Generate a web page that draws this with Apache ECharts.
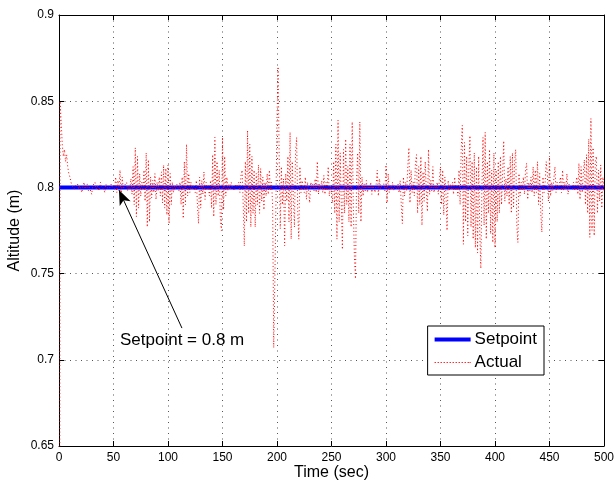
<!DOCTYPE html>
<html>
<head>
<meta charset="utf-8">
<script src="https://cdn.jsdelivr.net/npm/echarts@6/dist/echarts.min.js"></script>
<style>
html,body{margin:0;padding:0;background:#fff;}
#chart{width:614px;height:483px;}
</style>
</head>
<body>
<div id="chart"></div>
<script>
// ---- data ----
var timeStep = 1; // seconds between samples of the measured altitude
var setpointTimes = [0, 500];
var setpointValues = [0.8, 0.8];
var actualValues = [
  0.000, 0.850, 0.838, 0.825, 0.818, 0.822, 0.815, 0.819, 0.812, 0.808,
  0.806, 0.803, 0.801, 0.802, 0.799, 0.801, 0.800, 0.802, 0.799, 0.801,
  0.800, 0.797, 0.801, 0.803, 0.799, 0.800, 0.802, 0.798, 0.800, 0.801,
  0.796, 0.801, 0.800, 0.803, 0.799, 0.801, 0.800, 0.798, 0.803, 0.800,
  0.801, 0.799, 0.797, 0.802, 0.800, 0.801, 0.799, 0.800, 0.802, 0.800,
  0.801, 0.799, 0.806, 0.797, 0.804, 0.800, 0.810, 0.794, 0.806, 0.799,
  0.801, 0.800, 0.803, 0.798, 0.801, 0.799, 0.805, 0.796, 0.812, 0.790,
  0.823, 0.783, 0.818, 0.788, 0.808, 0.795, 0.803, 0.799, 0.810, 0.792,
  0.820, 0.777, 0.816, 0.780, 0.806, 0.794, 0.804, 0.797, 0.808, 0.793,
  0.803, 0.798, 0.806, 0.795, 0.809, 0.791, 0.813, 0.788, 0.811, 0.784,
  0.813, 0.779, 0.808, 0.790, 0.803, 0.797, 0.801, 0.799, 0.802, 0.800,
  0.798, 0.803, 0.790, 0.806, 0.782, 0.815, 0.790, 0.825, 0.795, 0.808,
  0.797, 0.803, 0.799, 0.801, 0.800, 0.797, 0.804, 0.790, 0.779, 0.806,
  0.788, 0.804, 0.796, 0.809, 0.793, 0.803, 0.799, 0.801, 0.795, 0.804,
  0.788, 0.819, 0.783, 0.829, 0.790, 0.815, 0.795, 0.810, 0.782, 0.775,
  0.829, 0.787, 0.818, 0.795, 0.806, 0.798, 0.802, 0.799, 0.803, 0.800,
  0.801, 0.798, 0.802, 0.800, 0.799, 0.803, 0.797, 0.807, 0.810, 0.790,
  0.766, 0.815, 0.780, 0.833, 0.785, 0.825, 0.777, 0.818, 0.785, 0.810,
  0.777, 0.808, 0.790, 0.813, 0.785, 0.811, 0.792, 0.806, 0.787, 0.803,
  0.795, 0.808, 0.796, 0.810, 0.798, 0.803, 0.790, 0.707, 0.745, 0.790,
  0.840, 0.870, 0.818, 0.776, 0.812, 0.790, 0.805, 0.766, 0.808, 0.792,
  0.818, 0.780, 0.832, 0.770, 0.815, 0.795, 0.777, 0.820, 0.829, 0.786,
  0.770, 0.812, 0.797, 0.804, 0.799, 0.797, 0.806, 0.793, 0.803, 0.798,
  0.791, 0.803, 0.800, 0.802, 0.798, 0.805, 0.797, 0.815, 0.796, 0.802,
  0.799, 0.804, 0.797, 0.807, 0.796, 0.803, 0.798, 0.812, 0.795, 0.801,
  0.797, 0.791, 0.815, 0.785, 0.825, 0.770, 0.839, 0.780, 0.820, 0.790,
  0.764, 0.822, 0.785, 0.828, 0.790, 0.812, 0.780, 0.825, 0.777, 0.838,
  0.790, 0.760, 0.747, 0.805, 0.820, 0.785, 0.838, 0.780, 0.806, 0.795,
  0.802, 0.798, 0.804, 0.797, 0.801, 0.799, 0.803, 0.796, 0.801, 0.800,
  0.797, 0.802, 0.810, 0.795, 0.805, 0.799, 0.801, 0.800, 0.802, 0.798,
  0.813, 0.791, 0.808, 0.797, 0.801, 0.799, 0.803, 0.798, 0.801, 0.800,
  0.799, 0.802, 0.797, 0.804, 0.790, 0.779, 0.806, 0.795, 0.803, 0.798,
  0.812, 0.823, 0.791, 0.810, 0.797, 0.803, 0.795, 0.814, 0.819, 0.785,
  0.812, 0.790, 0.818, 0.778, 0.809, 0.792, 0.815, 0.798, 0.786, 0.822,
  0.796, 0.804, 0.798, 0.812, 0.797, 0.801, 0.799, 0.803, 0.796, 0.805,
  0.812, 0.790, 0.810, 0.784, 0.806, 0.797, 0.775, 0.804, 0.798, 0.802,
  0.799, 0.803, 0.796, 0.806, 0.798, 0.801, 0.795, 0.810, 0.790, 0.822,
  0.836, 0.767, 0.826, 0.780, 0.818, 0.772, 0.812, 0.830, 0.777, 0.815,
  0.770, 0.820, 0.765, 0.812, 0.762, 0.818, 0.775, 0.753, 0.800, 0.829,
  0.778, 0.832, 0.770, 0.815, 0.785, 0.822, 0.773, 0.810, 0.768, 0.820,
  0.765, 0.810, 0.780, 0.815, 0.785, 0.818, 0.790, 0.808, 0.827, 0.792,
  0.805, 0.795, 0.812, 0.790, 0.818, 0.785, 0.820, 0.788, 0.815, 0.822,
  0.778, 0.768, 0.808, 0.795, 0.803, 0.798, 0.806, 0.796, 0.810, 0.814,
  0.793, 0.803, 0.798, 0.806, 0.797, 0.812, 0.795, 0.810, 0.797, 0.815,
  0.790, 0.808, 0.785, 0.774, 0.806, 0.797, 0.803, 0.815, 0.808, 0.792,
  0.818, 0.795, 0.803, 0.798, 0.805, 0.812, 0.797, 0.803, 0.799, 0.801,
  0.806, 0.797, 0.810, 0.798, 0.803, 0.799, 0.808, 0.796, 0.802, 0.800,
  0.801, 0.799, 0.803, 0.798, 0.801, 0.806, 0.796, 0.814, 0.793, 0.812,
  0.797, 0.808, 0.816, 0.790, 0.819, 0.785, 0.828, 0.771, 0.840, 0.775,
  0.823, 0.772, 0.815, 0.818, 0.785, 0.810, 0.792, 0.813, 0.788, 0.806,
  0.798
];
var xTicks = [0, 50, 100, 150, 200, 250, 300, 350, 400, 450, 500];
var yTicks = [0.65, 0.7, 0.75, 0.8, 0.85, 0.9];
var seriesNames = ['Setpoint', 'Actual'];
var xLabel = 'Time (sec)';
var yLabel = 'Altitude (m)';
var annotationText = 'Setpoint = 0.8 m';
var arrowFrom = [112.8, 0.7184];
var arrowTo = [55, 0.7985];

// ---- chart ----
var FONT = 'Liberation Sans, Arial, Helvetica, sans-serif';
var chart = echarts.init(document.getElementById('chart'), null, {renderer: 'canvas'});

var actualData = actualValues.map(function (v, i) { return [i * timeStep, v]; });
var setpointData = setpointTimes.map(function (t, i) { return [t, setpointValues[i]]; });

// legend icon shapes (styling only)
var solidIcon = 'path://M0,0H36V4H0Z';
var dottedIcon = 'path://';
for (var k = 0; k < 12; k++) { dottedIcon += 'M' + (k * 3) + ',0h1.2v1.2h-1.2Z'; }
dottedIcon += 'M35,0h1v1.2h-1Z';

var gridDash = [1, 4.5];
function mkX(pos, show) {
  return {
    type: 'value', position: pos, min: xTicks[0], max: xTicks[xTicks.length - 1],
    interval: xTicks[1] - xTicks[0],
    name: show ? xLabel : '', nameLocation: 'middle', nameGap: 19, nameMoveOverlap: false,
    nameTextStyle: {fontFamily: FONT, fontSize: 16, color: '#000'},
    axisLine: {show: true, onZero: false, lineStyle: {color: '#000', width: 1}},
    axisTick: {show: true, inside: true, length: 5, lineStyle: {color: '#000'}},
    axisLabel: {show: show, fontFamily: FONT, fontSize: 12, color: '#000', margin: 6},
    splitLine: {show: show, lineStyle: {color: '#555', type: gridDash, width: 1}}
  };
}
function mkY(pos, show) {
  return {
    type: 'value', position: pos, min: yTicks[0], max: yTicks[yTicks.length - 1],
    interval: 0.05,
    name: show ? yLabel : '', nameLocation: 'middle', nameGap: 36, nameMoveOverlap: false,
    nameTextStyle: {fontFamily: FONT, fontSize: 16, color: '#000'},
    axisLine: {show: true, onZero: false, lineStyle: {color: '#000', width: 1}},
    axisTick: {show: true, inside: true, length: 5, lineStyle: {color: '#000'}},
    axisLabel: {show: show, fontFamily: FONT, fontSize: 12, color: '#000', margin: 5},
    splitLine: {show: show, lineStyle: {color: '#555', type: gridDash, width: 1}}
  };
}

var option = {
  animation: false,
  backgroundColor: '#fff',
  grid: {left: 59, right: 10, top: 15, bottom: 37, containLabel: false, outerBoundsMode: 'none'},
  xAxis: [mkX('bottom', true), mkX('top', false)],
  yAxis: [mkY('left', true), mkY('right', false)],
  legend: {
    data: [
      {name: seriesNames[0], icon: solidIcon},
      {name: seriesNames[1], icon: dottedIcon}
    ],
    orient: 'vertical',
    right: 70, top: 326,
    backgroundColor: '#fff',
    borderColor: '#000', borderWidth: 1, borderRadius: 0,
    padding: [5, 7, 4, 7],
    itemGap: 6, itemWidth: 36, itemHeight: 18,
    symbolKeepAspect: true,
    textStyle: {fontFamily: FONT, fontSize: 17, color: '#000', padding: [0, 0, 0, -1]}
  },
  graphic: [{
    type: 'text', left: 120, top: 332, z: 100,
    style: {text: annotationText, font: '17px ' + FONT, fill: '#000'}
  }],
  series: [
    {
      name: seriesNames[0], type: 'line', data: setpointData,
      symbol: 'none', lineStyle: {color: '#0000ff', width: 4}, itemStyle: {color: '#0000ff'},
      z: 2,
      markLine: {
        silent: true, animation: false,
        symbol: ['none', 'arrow'], symbolSize: 12,
        lineStyle: {color: '#000', width: 1, type: 'solid'},
        itemStyle: {color: '#000'},
        label: {show: false},
        emphasis: {disabled: true},
        data: [[{coord: arrowFrom, symbol: 'none'}, {coord: arrowTo, symbol: 'arrow', symbolSize: [9, 15]}]]
      }
    },
    {
      name: seriesNames[1], type: 'line', data: actualData,
      symbol: 'none', clip: true,
      lineStyle: {color: '#ff0000', width: 1, type: [1, 2.5]},
      itemStyle: {color: '#ff0000'},
      z: 3
    }
  ]
};
chart.setOption(option);
</script>
</body>
</html>
